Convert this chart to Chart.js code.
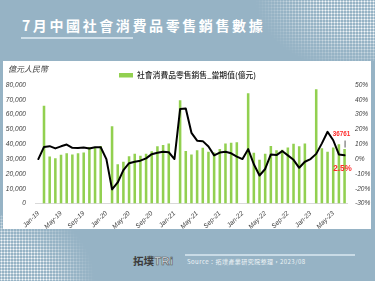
<!DOCTYPE html>
<html><head><meta charset="utf-8">
<script src="https://cdn.jsdelivr.net/npm/chart.js@4.4.1/dist/chart.umd.min.js"></script>
<style>
html,body{margin:0;padding:0;}
body{width:375px;height:281px;position:relative;overflow:hidden;background:#96b3c5;font-family:"Noto Sans CJK TC","Noto Sans",sans-serif;}
.dots{position:absolute;background-image:radial-gradient(circle, rgba(255,255,255,0.9) 0.8px, rgba(255,255,255,0) 1.2px);background-size:3px 3px;}
#dotsTR{left:255px;top:0;width:120px;height:61px;-webkit-mask-image:radial-gradient(ellipse 120px 75px at 100% 0%, #000 45%, rgba(0,0,0,0) 100%);mask-image:radial-gradient(ellipse 120px 75px at 100% 0%, #000 45%, rgba(0,0,0,0) 100%);}
#dotsBL{left:0;top:215px;width:95px;height:66px;-webkit-mask-image:radial-gradient(ellipse 95px 80px at 0% 100%, #000 50%, rgba(0,0,0,0) 100%);mask-image:radial-gradient(ellipse 95px 80px at 0% 100%, #000 50%, rgba(0,0,0,0) 100%);}
#panel{position:absolute;left:3px;top:61px;width:368px;height:168px;background:#fff;}
#title{position:absolute;left:22px;top:16px;color:#fff;font-weight:bold;font-size:14px;letter-spacing:2.6px;line-height:18px;white-space:nowrap;}
#uline{position:absolute;left:21px;top:37px;width:112px;height:2px;background:#cfdfe9;}
#fline{position:absolute;left:185px;top:254px;width:170px;height:1.5px;background:#c9dbe6;}
#logo{position:absolute;left:133px;top:254px;font-size:10.5px;line-height:14px;font-weight:bold;color:#3c3c3c;white-space:nowrap;}
#logo .t{font-family:"Liberation Sans",sans-serif;color:#dfe7ec;-webkit-text-stroke:0.6px #555;font-size:11.5px;letter-spacing:0.3px;}
#src{position:absolute;left:187px;top:257px;font-size:6px;line-height:9px;color:#eef3f6;white-space:nowrap;letter-spacing:0.45px;}
canvas{position:absolute;left:0;top:0;}
</style></head>
<body>
<div id="dotsTR" class="dots"></div>
<div id="dotsBL" class="dots"></div>
<div id="title">7月中國社會消費品零售銷售數據</div>
<div id="uline"></div>
<div id="panel"></div>
<div id="fline"></div>
<div id="logo">拓墣<span class="t">TRi</span></div>
<div id="src">Source：拓墣產業研究院整理，2023/08</div>
<canvas id="c" width="375" height="281"></canvas>
<script>
// ---- data ----
const monthLabels = [
 'Jan-19','Feb-19','Mar-19','Apr-19','May-19','Jun-19','Jul-19','Aug-19','Sep-19','Oct-19','Nov-19','Dec-19',
 'Jan-20','Feb-20','Mar-20','Apr-20','May-20','Jun-20','Jul-20','Aug-20','Sep-20','Oct-20','Nov-20','Dec-20',
 'Jan-21','Feb-21','Mar-21','Apr-21','May-21','Jun-21','Jul-21','Aug-21','Sep-21','Oct-21','Nov-21','Dec-21',
 'Jan-22','Feb-22','Mar-22','Apr-22','May-22','Jun-22','Jul-22','Aug-22','Sep-22','Oct-22','Nov-22','Dec-22',
 'Jan-23','Feb-23','Mar-23','Apr-23','May-23','Jun-23','Jul-23'
];
// 社會消費品零售銷售 當期值 (億元) — Jan & Feb reported together
const salesValues = [
 null,66064,31726,30586,32956,33878,33073,33896,34495,38104,38094,38777,
 null,52130,26450,28178,31973,33526,32203,33571,35295,38576,39514,40566,
 null,69737,35484,33153,35945,37586,34925,34395,36833,40454,41043,41269,
 null,74426,34233,29483,33547,38742,35870,36258,37745,40271,38615,40542,
 null,77067,37315,34910,37803,39951,36761
];
// 年增率 (%)
const yoyGrowth = [
 0,8.2,8.7,7.2,8.6,9.8,7.6,7.5,7.8,7.2,8.0,8.0,
 0,-20.5,-15.8,-7.5,-2.8,-1.8,-1.1,0.5,3.3,4.3,5.0,4.6,
 0,33.8,34.2,17.7,12.4,12.1,8.5,2.5,4.4,4.9,3.9,1.7,
 0,6.7,-3.5,-11.1,-6.7,3.1,2.7,5.4,2.5,-0.5,-5.9,-1.8,
 0,3.5,10.6,18.4,12.7,3.1,2.5
];
const salesLabel = '社會消費品零售銷售_當期值(億元)';
const growthLabel = '年增率';
const leftAxisTitle = '億元人民幣';
const lastSalesText = '36761';
const lastGrowthText = '2.5%';

const tickFont = {family:'"Liberation Sans", Arial, sans-serif', size:6.6, style:'italic'};

const extras = {
  id:'extras',
  afterDraw(chart){
    const c = chart.ctx;
    const xs = chart.scales.x, ys = chart.scales.y, y1 = chart.scales.y1;
    c.save();
    // axis title
    c.fillStyle = '#404040';
    c.font = 'italic 8px "Noto Sans CJK TC"';
    c.textAlign = 'left'; c.textBaseline = 'middle';
    c.fillText(leftAxisTitle, 8, 69);
    // legend
    c.fillStyle = '#92d050';
    c.fillRect(119, 73, 14, 4.5);
    c.fillStyle = '#262626';
    c.font = '500 7.8px "Noto Sans CJK TC"';
    c.fillText(salesLabel, 137, 75.5);
    // last-value labels
    const last = monthLabels.length - 1;
    const px = xs.getPixelForValue(last);
    const barTop = ys.getPixelForValue(salesValues[last]);
    const ptY = y1.getPixelForValue(yoyGrowth[last]);
    c.strokeStyle = '#595959'; c.lineWidth = 1;
    c.beginPath(); c.moveTo(px + 0.5, barTop - 8.5); c.lineTo(px + 0.5, barTop - 1.5); c.stroke();
    c.fillStyle = '#ff2a2a';
    c.textAlign = 'center';
    c.font = 'bold 6.3px "Liberation Sans", Arial, sans-serif';
    c.fillText(lastSalesText, px - 3, barTop - 15);
    c.font = 'bold 8.2px "Liberation Sans", Arial, sans-serif';
    c.fillText(lastGrowthText, px - 2, ptY + 13);
    c.restore();
  }
};

new Chart(document.getElementById('c'), {
  data: {
    labels: monthLabels,
    datasets: [
      {type:'line', label:growthLabel, data:yoyGrowth, yAxisID:'y1', borderColor:'#000', borderWidth:2,
       pointRadius:0, tension:0, borderJoinStyle:'round', borderCapStyle:'round', order:0},
      {type:'bar', label:salesLabel, data:salesValues, yAxisID:'y', backgroundColor:'#92d050',
       barPercentage:0.5, categoryPercentage:0.9, order:1}
    ]
  },
  options: {
    responsive:false, animation:false, devicePixelRatio:1,
    layout:{padding:{left:0, right:0, top:85, bottom:52}},
    plugins:{legend:{display:false}, tooltip:{enabled:false}},
    scales:{
      x:{offset:true, grid:{display:false, drawTicks:false}, border:{display:true, color:'#d9d9d9', width:1},
         ticks:{autoSkip:false, maxRotation:45, minRotation:45, padding:6, font:tickFont, color:'#404040',
                callback:(v,i)=> i % 4 === 0 ? monthLabels[i] : ''},
         afterFit:s=>{s.height = 25.5;}},
      y:{position:'left', min:0, max:80000, grid:{display:false, drawTicks:false}, border:{display:false},
         ticks:{stepSize:10000, padding:9.5, font:tickFont, color:'#404040', callback:v=>Number(v).toLocaleString('en-US')},
         afterFit:s=>{s.width = 35.5;}},
      y1:{position:'right', min:-30, max:50, grid:{display:false, drawTicks:false}, border:{display:false},
         ticks:{stepSize:10, padding:7.6, font:tickFont, color:'#404040', callback:v=>v + '%'},
         afterFit:s=>{s.width = 27.6;}}
    }
  },
  plugins:[extras]
});
</script>
</body></html>
